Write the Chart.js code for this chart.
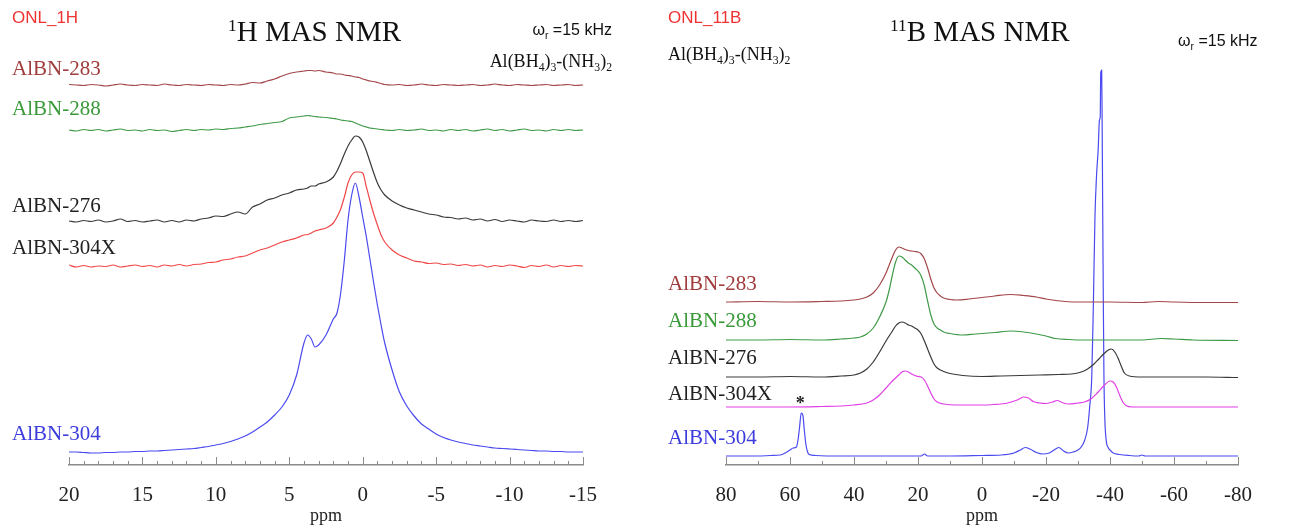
<!DOCTYPE html>
<html>
<head>
<meta charset="utf-8">
<title>1H and 11B MAS NMR</title>
<script src="https://cdn.jsdelivr.net/npm/chart.js@4.4.1/dist/chart.umd.min.js"></script>
<style>
  body { margin: 0; background: #fff; }
  #wrap { position: relative; width: 1298px; height: 525px; overflow: hidden; }
  #wrap canvas { position: absolute; top: 0; }
  .txt { position: absolute; white-space: nowrap; line-height: 1; }
  .serif { font-family: "Liberation Serif", "Times New Roman", serif; }
  .sans { font-family: "Liberation Sans", Arial, sans-serif; }
  .sup { font-size: 0.6em; position: relative; top: -0.6em; }
  .sub { font-size: 0.65em; position: relative; top: 0.35em; }
</style>
</head>
<body>
<div id="wrap">
  <canvas id="chart1H" width="649" height="525" style="left:0"></canvas>
  <canvas id="chart11B" width="649" height="525" style="left:649px"></canvas>

  <!-- left panel texts -->
  <div class="txt sans" style="left:12px;top:9px;font-size:17px;color:#ee3333">ONL_1H</div>
  <div class="txt serif" style="left:228px;top:17px;font-size:29px;color:#111"><span class="sup">1</span>H MAS NMR</div>
  <div class="txt sans" style="right:686px;top:22px;font-size:16px;color:#111">&omega;<span class="sub">r</span> =15 kHz</div>
  <div class="txt serif" style="right:686px;top:52px;font-size:18px;color:#111">Al(BH<span class="sub">4</span>)<span class="sub">3</span>-(NH<span class="sub">3</span>)<span class="sub">2</span></div>
  <div class="txt serif" style="left:12px;top:58px;font-size:21px;color:#a03c3c">AlBN-283</div>
  <div class="txt serif" style="left:12px;top:98px;font-size:21px;color:#3a9a3a">AlBN-288</div>
  <div class="txt serif" style="left:12px;top:195px;font-size:21px;color:#222">AlBN-276</div>
  <div class="txt serif" style="left:12px;top:237px;font-size:21px;color:#222">AlBN-304X</div>
  <div class="txt serif" style="left:12px;top:423px;font-size:21px;color:#3c3cdc">AlBN-304</div>

  <!-- right panel texts -->
  <div class="txt sans" style="left:668px;top:9px;font-size:17px;color:#ee3333">ONL_11B</div>
  <div class="txt serif" style="left:890px;top:17px;font-size:29px;color:#111"><span class="sup">11</span>B MAS NMR</div>
  <div class="txt sans" style="left:1178px;top:33px;font-size:16px;color:#111">&omega;<span class="sub">r</span> =15 kHz</div>
  <div class="txt serif" style="left:668px;top:45px;font-size:18px;color:#111">Al(BH<span class="sub">4</span>)<span class="sub">3</span>-(NH<span class="sub">3</span>)<span class="sub">2</span></div>
  <div class="txt serif" style="left:668px;top:273px;font-size:21px;color:#a03c3c">AlBN-283</div>
  <div class="txt serif" style="left:668px;top:310px;font-size:21px;color:#3a9a3a">AlBN-288</div>
  <div class="txt serif" style="left:668px;top:347px;font-size:21px;color:#222">AlBN-276</div>
  <div class="txt serif" style="left:668px;top:383px;font-size:21px;color:#222">AlBN-304X</div>
  <div class="txt serif" style="left:668px;top:427px;font-size:21px;color:#3c3cdc">AlBN-304</div>
</div>

<script>
// 1H spectra, shared ppm grid (heights)
var ppm1H = [20, 19.5, 19, 18.5, 18, 17.5, 17, 16.5, 16, 15.5,
  15, 14.5, 14, 13.5, 13, 12.5, 12, 11.5, 11, 10.5,
  10, 9.5, 9, 8.5, 8, 7.5, 7, 6.5, 6, 5.5,
  5, 4.5, 4, 3.75, 3.5, 3.25, 3, 2.5, 2, 1.75,
  1.5, 1.25, 1, 0.75, 0.5, 0.25, 0, -0.25, -0.5, -0.75,
  -1, -1.25, -1.5, -2, -2.5, -3, -3.5, -4, -4.5, -5,
  -5.5, -6, -6.5, -7, -7.5, -8, -8.5, -9, -9.5, -10,
  -10.5, -11, -11.5, -12, -12.5, -13, -13.5, -14, -14.5, -15];

var h283 = [380.5, 380, 379.5, 380.5, 380, 379, 380, 381, 380, 379.5,
  380.5, 380, 379.5, 381, 380, 379.5, 380.5, 380, 379.5, 380.5,
  380, 379.5, 380.5, 380, 381, 382.5, 382, 384, 386, 389,
  391.5, 393, 394, 394.5, 394.5, 394, 394.5, 393, 392, 391,
  391, 390, 389.5, 389, 388, 387.5, 386, 385, 384, 383.5,
  382.5, 381.5, 380.5, 380, 380.5, 379.5, 380, 381, 380, 379.5,
  380.5, 380, 379.5, 380, 380.5, 379.5, 380, 381, 380, 379.5,
  380.5, 380, 379.5, 380, 380.5, 379.5, 380, 380.5, 379.5, 380];

var h288 = [335, 334, 335.5, 334.5, 335.5, 334, 335, 336, 334.5, 335,
  334, 335.5, 334.5, 335, 333.5, 334.5, 335.5, 334.5, 335.5, 335,
  336, 335.5, 336.5, 337, 338, 339, 340.5, 341.5, 342.5, 343.5,
  347, 348, 349, 349.5, 349, 348.5, 348, 347.5, 346.5, 346,
  345, 344.5, 344, 343.5, 342, 340.5, 339, 338, 337, 336.5,
  336, 335.5, 335, 334.5, 335.5, 334.5, 335, 336, 334.5, 335,
  334, 335.5, 334.5, 335.5, 334, 335, 336, 334.5, 335.5, 334,
  335, 336, 334.5, 335, 334, 335.5, 334.5, 335.5, 334.5, 335];

var h276 = [244, 243, 244.5, 243.5, 245, 243, 244, 246, 243.5, 244.5,
  243, 244, 245, 243, 244.5, 243, 245, 244, 246, 247,
  249, 248.5, 251, 253, 251, 258, 261, 265, 267, 270,
  272, 275, 276, 277, 279, 279, 281, 283, 288, 294,
  302, 311, 319, 325, 329, 328, 323, 314, 303, 292,
  282, 275, 270, 264, 260, 257, 255, 253, 251, 250,
  248, 247.5, 246, 247, 245, 246, 244, 245.5, 243.5, 245,
  244, 243, 245, 244, 243.5, 245, 243.5, 244.5, 243.5, 244.5];

var h304X = [200, 198, 199.5, 198, 199, 198.5, 200, 198, 199, 200,
  198.5, 199.5, 198, 200, 199, 200.5, 199, 200.5, 201, 202.5,
  203, 205, 206, 208, 209, 212, 215, 217, 220, 223,
  225, 227, 230, 230.5, 232, 234, 235, 237, 242, 248,
  256, 268, 282, 290, 293, 293, 292, 278, 264, 251,
  240, 230, 223, 215, 210, 207, 204, 203, 201.5, 202,
  200.5, 201, 199.5, 200.5, 199, 200, 198, 199.5, 198.5, 200,
  199, 197.5, 199.5, 198.5, 200, 198, 199.5, 198.5, 199.5, 199];

var h304 = [13, 13, 12.5, 12, 12, 12.5, 12.5, 13, 13, 13.5,
  13.5, 14, 14, 14.5, 15, 15.5, 16, 16.5, 17.5, 18.5,
  20, 21.5, 23.5, 26, 29, 33, 38, 43, 50, 58,
  70, 90, 122, 130, 126, 118, 120, 130, 146, 152,
  172, 205, 245, 270, 282, 268, 248, 228, 205, 182,
  160, 140, 122, 95, 73, 59, 49, 41, 36, 31,
  27.5, 25, 23, 21.5, 20, 19, 18, 17, 16.5, 16,
  15.5, 15, 14.5, 14, 14, 13.5, 13.5, 13, 13, 13];

// 11B spectra, [ppm, height] pairs
var b283 = [[80,163],[70,163.5],[60,163],[50,163.5],[44,164],[40,165],[38,166],[36,168],[34,172],[32,180],
  [30,192],[29,200],[28,208],[27,215],[26,218],[25,217],[24,215.5],[23,214.5],[22,214],[21,213.5],
  [20,213],[19,211],[18,206],[17,197],[16,186],[15,177],[14,172],[13,169],[12,167],[10,165.5],
  [8,165],[4,166],[0,167.5],[-4,169],[-9,170.5],[-13,169.5],[-17,168],[-20,166],[-23,164.5],[-26,163.5],
  [-30,163],[-40,163],[-50,162.5],[-55,163.5],[-60,163],[-70,162.5],[-80,162.5]];

var b288 = [[80,125],[70,125],[60,125.5],[50,125],[44,126],[40,127],[38,128],[36,131],[34,137],[32,148],
  [30,163],[29,175],[28,190],[27,203],[26,209],[25,208],[24,205],[23,202],[22,200],[21,197],
  [20,194],[19,189],[18,179],[17,164],[16,150],[15,141],[14,137],[13,135],[12,133],[10,131.5],
  [6,130],[2,131],[-4,132.5],[-9,134],[-13,133],[-17,131],[-20,129],[-23,126.5],[-27,125.5],[-32,125],
  [-40,125],[-50,125],[-56,126.5],[-60,126],[-66,125],[-80,124.5]];

var b276 = [[80,88],[70,88],[60,88.5],[50,88],[44,89],[40,90],[38,92],[36,96],[34,103],[32,113],
  [30,124],[28,134],[27,139],[26,142],[25,143],[24,142],[23,140],[22,139],[21,137],[20,135],
  [19,131],[18,124],[17,116],[16,108],[15,101],[14,97],[12,93.5],[10,91.5],[6,89.5],[0,88.5],
  [-6,89],[-12,89.5],[-18,90],[-24,90.5],[-28,91],[-31,93],[-33,96],[-35,101],[-36.5,106],[-38,111],
  [-39.5,115],[-40.5,116],[-41.5,113],[-42.5,107],[-43.5,99],[-44.5,92],[-46,89],[-50,88],[-60,88],[-70,88],
  [-80,87.5]];

var b304X = [[80,58],[70,58],[60,58],[50,58.5],[44,59],[40,60],[36,62],[34,65],[32,70],[30,77],
  [28,84],[26,90],[25,93],[24,94],[23,93],[22,91],[21,89.5],[20,88.5],[19,88],[18,85],
  [17,79],[16,72],[15,66],[14,63],[12,61],[8,60],[2,60],[-4,60.5],[-8,62],[-11,65],
  [-13,68],[-14.5,67],[-16,63.5],[-18,62],[-20,61.5],[-22,63],[-23.5,64.5],[-25,62.5],[-27,61],[-30,62],
  [-32,63],[-34,66],[-36,72],[-38,79],[-40,84],[-41,83],[-42,78],[-43,70],[-44,63],[-45,59.5],
  [-47,58],[-55,58],[-65,58],[-80,58]];

var b304 = [[80,9],[70,9],[66,9.5],[63,10],[61.5,12],[60,15],[59,17],[58,18],[57.5,25],[57,38],
  [56.5,52],[56,50],[55.5,34],[55,20],[54.5,13],[54,10.5],[52,9.5],[45,9],[30,9],[19,9],
  [18,11],[17,9],[10,9],[0,9.5],[-6,10],[-10,12],[-12,15],[-13.5,17.5],[-15,16],[-17,12.5],
  [-19,11],[-21,12],[-23,16],[-24,17.5],[-25.5,14],[-27,12],[-28.5,13],[-30,15],[-31,18],[-32,24],
  [-33,37],[-33.7,60],[-34.3,88],[-34.8,160],[-35.3,248],[-35.8,290],[-36.3,315],[-36.7,345],[-36.95,348],[-37.1,392],
  [-37.4,395],[-37.55,340],[-37.7,265],[-37.9,170],[-38.1,90],[-38.4,45],[-38.8,25],[-39.5,17],[-40,15],[-41,12],
  [-43,10.5],[-46,9.5],[-49,9],[-50,10],[-51,9],[-60,9],[-70,9],[-80,9]];

// spinning sideband marker
var notes11B = [{ x: 56.8, y: 61, text: '*' }];

var SERIF = '"Liberation Serif", "Times New Roman", serif';

var zip = function(xs, ys) {
  return xs.map(function(x, i) { return { x: x, y: ys[i] }; });
};
var pairs = function(arr) {
  return arr.map(function(p) { return { x: p[0], y: p[1] }; });
};

// short upward tick marks on the ppm axis, longer at labelled values
var tickMarks = {
  id: 'tickMarks',
  afterDraw: function(chart, args, opts) {
    var sx = chart.scales.x;
    var ctx = chart.ctx;
    var y0 = chart.chartArea.bottom;
    ctx.save();
    ctx.strokeStyle = '#8a8a8a';
    ctx.lineWidth = 1;
    sx.ticks.forEach(function(t) {
      var px = Math.round(sx.getPixelForValue(t.value)) + 0.5;
      var len = (t.value % opts.major === 0) ? 8 : 4;
      ctx.beginPath();
      ctx.moveTo(px, y0);
      ctx.lineTo(px, y0 - len);
      ctx.stroke();
    });
    ctx.restore();
  }
};

// text notes placed by data value
var dataNotes = {
  id: 'dataNotes',
  afterDatasetsDraw: function(chart, args, opts) {
    if (!opts.items) return;
    var ctx = chart.ctx;
    ctx.save();
    ctx.fillStyle = '#222';
    ctx.font = 'bold 18px ' + SERIF;
    ctx.textAlign = 'center';
    ctx.textBaseline = 'middle';
    opts.items.forEach(function(n) {
      ctx.fillText(n.text, chart.scales.x.getPixelForValue(n.x), chart.scales.y.getPixelForValue(n.y));
    });
    ctx.restore();
  }
};

var line = function(label, data, color) {
  return {
    label: label,
    data: data,
    borderColor: color,
    borderWidth: 1.2,
    pointRadius: 0,
    fill: false,
    cubicInterpolationMode: 'monotone'
  };
};

var makeOptions = function(min, max, step, major, padL, padR, notes) {
  return {
    responsive: false,
    animation: false,
    layout: { padding: { left: padL, right: padR, top: 40, bottom: 0 } },
    plugins: {
      legend: { display: false },
      tooltip: { enabled: false },
      tickMarks: { major: major },
      dataNotes: { items: notes }
    },
    scales: {
      x: {
        type: 'linear',
        reverse: true,
        min: min,
        max: max,
        afterFit: function(scale) { scale.height = 60; },
        grid: { display: false, drawTicks: false, tickLength: 0 },
        border: { display: true, color: '#8a8a8a', width: 1.5 },
        ticks: {
          stepSize: step,
          autoSkip: false,
          maxRotation: 0,
          padding: 18,
          color: '#222',
          font: { family: SERIF, size: 21 },
          callback: function(v) { return v % major === 0 ? String(v) : ''; }
        },
        title: {
          display: true,
          text: 'ppm',
          color: '#222',
          font: { family: SERIF, size: 18, lineHeight: 1 },
          padding: { top: 0, bottom: 0 }
        }
      },
      y: { display: false, min: 0, max: 425 }
    }
  };
};

new Chart(document.getElementById('chart1H').getContext('2d'), {
  type: 'line',
  data: {
    datasets: [
      line('AlBN-283', zip(ppm1H, h283), '#a3474a'),
      line('AlBN-288', zip(ppm1H, h288), '#3f9a48'),
      line('AlBN-276', zip(ppm1H, h276), '#3a3a3a'),
      line('AlBN-304X', zip(ppm1H, h304X), '#f04848'),
      line('AlBN-304', zip(ppm1H, h304), '#4a4af0')
    ]
  },
  options: makeOptions(-15, 20, 1, 5, 69, 66, null),
  plugins: [tickMarks, dataNotes]
});

new Chart(document.getElementById('chart11B').getContext('2d'), {
  type: 'line',
  data: {
    datasets: [
      line('AlBN-283', pairs(b283), '#a3474a'),
      line('AlBN-288', pairs(b288), '#3f9a48'),
      line('AlBN-276', pairs(b276), '#3a3a3a'),
      line('AlBN-304X', pairs(b304X), '#e23ee6'),
      line('AlBN-304', pairs(b304), '#4a4af0')
    ]
  },
  options: makeOptions(-80, 80, 10, 20, 77, 60, notes11B),
  plugins: [tickMarks, dataNotes]
});
</script>
</body>
</html>
